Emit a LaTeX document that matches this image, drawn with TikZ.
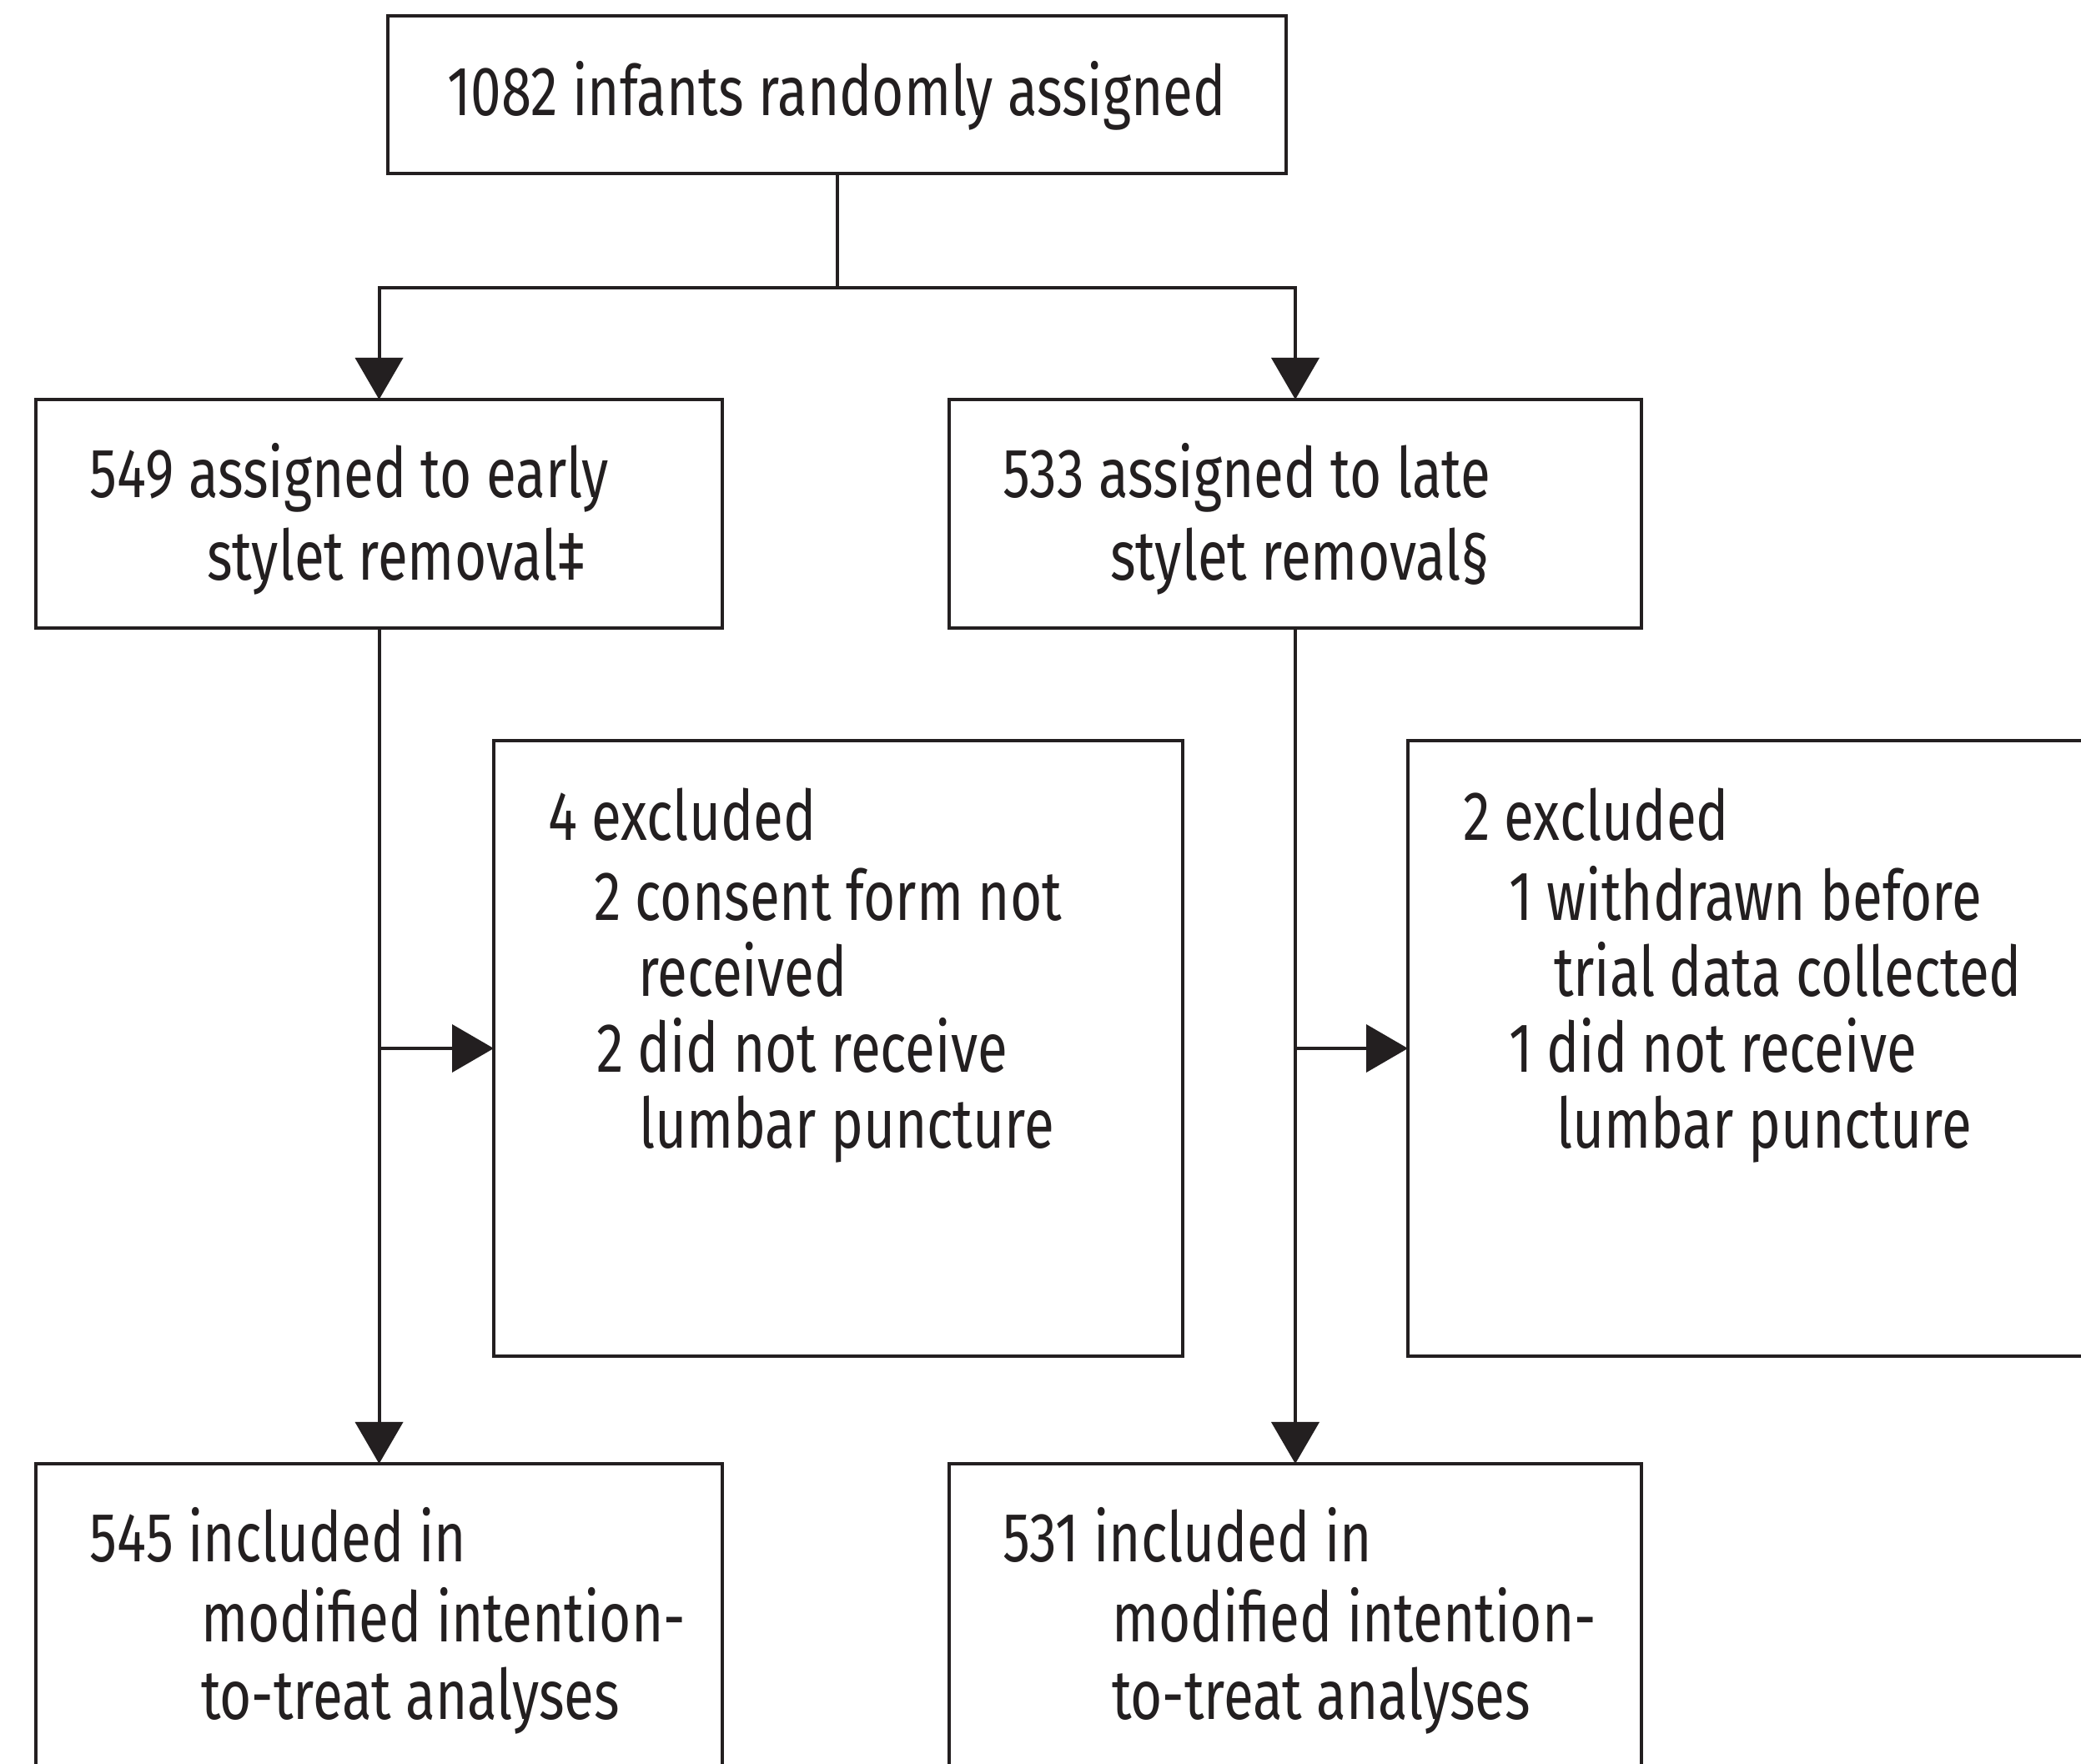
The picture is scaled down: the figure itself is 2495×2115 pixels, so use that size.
\documentclass[tikz,border=0pt]{standalone}
\usepackage{fontspec}
\setmainfont{Fira Sans}[FakeStretch=0.785]
\usetikzlibrary{arrows.meta}
\definecolor{ink}{HTML}{231F20}
\tikzset{
  box/.style={draw=ink, line width=0.8pt, rectangle, anchor=north west, outer sep=0pt, inner sep=0pt},
  arr/.style={draw=ink, line width=0.8pt, -{Triangle[length=10pt,width=11.4pt]}},
  conn/.style={draw=ink, line width=0.8pt},
  txt/.style={anchor=base west, inner sep=0pt, text=ink, font=\fontsize{16.7pt}{19pt}\selectfont}
}
\begin{document}
\begin{tikzpicture}[x=0.2pt,y=-0.2pt]
\useasboundingbox (0,0) rectangle (2495,2115);
\fill[white] (0,0) rectangle (2495,2115);
\clip (0,0) rectangle (2495,2115);
% boxes
\node[box, minimum width=215.4pt, minimum height=37.8pt] (top) at (465,19) {};
\node[box, minimum width=164.6pt, minimum height=54.8pt] (early) at (43,479) {};
\node[box, minimum width=166pt, minimum height=54.8pt] (late) at (1138,479) {};
\node[box, minimum width=165.2pt, minimum height=147.6pt] (excl1) at (592,888) {};
\node[box, minimum width=180pt, minimum height=147.6pt] (excl2) at (1688,888) {};
\node[box, minimum width=164.6pt, minimum height=100pt] (inc1) at (43,1755) {};
\node[box, minimum width=166pt, minimum height=100pt] (inc2) at (1138,1755) {};
% connectors
\coordinate (split) at (top.south |- 0,345);
\draw[conn] (top.south) -- (split);
\draw[arr] (split) -| (early.north);
\draw[arr] (split) -| (late.north);
\draw[arr] (early.south) -- (inc1.north);
\draw[arr] (late.south) -- (inc2.north);
\draw[arr] (early.south |- excl1.west) -- (excl1.west);
\draw[arr] (late.south |- excl2.west) -- (excl2.west);
% texts
\node[txt, anchor=base] (t0) at (1003,139) {1082 infants randomly assigned};
\node[txt] (a1) at (107,597) {549 assigned to early};
\node[txt] (a2) at (247,696) {stylet removal‡};
\node[txt] (b1) at (1201,597) {533 assigned to late};
\node[txt] (b2) at (1330,696) {stylet removal§};
\node[txt] (c1) at (656,1008) {4 excluded};
\node[txt] (c2) at (711,1104) {2 consent form not};
\node[txt] (c3) at (764,1195) {received};
\node[txt] (c4) at (714,1286) {2 did not receive};
\node[txt] (c5) at (765,1377) {lumbar puncture};
\node[txt] (d1) at (1753,1008) {2 excluded};
\node[txt] (d2) at (1808,1104) {1 withdrawn before};
\node[txt] (d3) at (1862,1195) {trial data collected};
\node[txt] (d4) at (1808,1286) {1 did not receive};
\node[txt] (d5) at (1865,1377) {lumbar puncture};
\node[txt] (f1) at (107,1872) {545 included in};
\node[txt] (f2) at (240,1968) {modified intention-};
\node[txt] (f3) at (240,2061) {to-treat analyses};
\node[txt] (g1) at (1201,1872) {531 included in};
\node[txt] (g2) at (1332,1968) {modified intention-};
\node[txt] (g3) at (1332,2061) {to-treat analyses};
\end{tikzpicture}
\end{document}
